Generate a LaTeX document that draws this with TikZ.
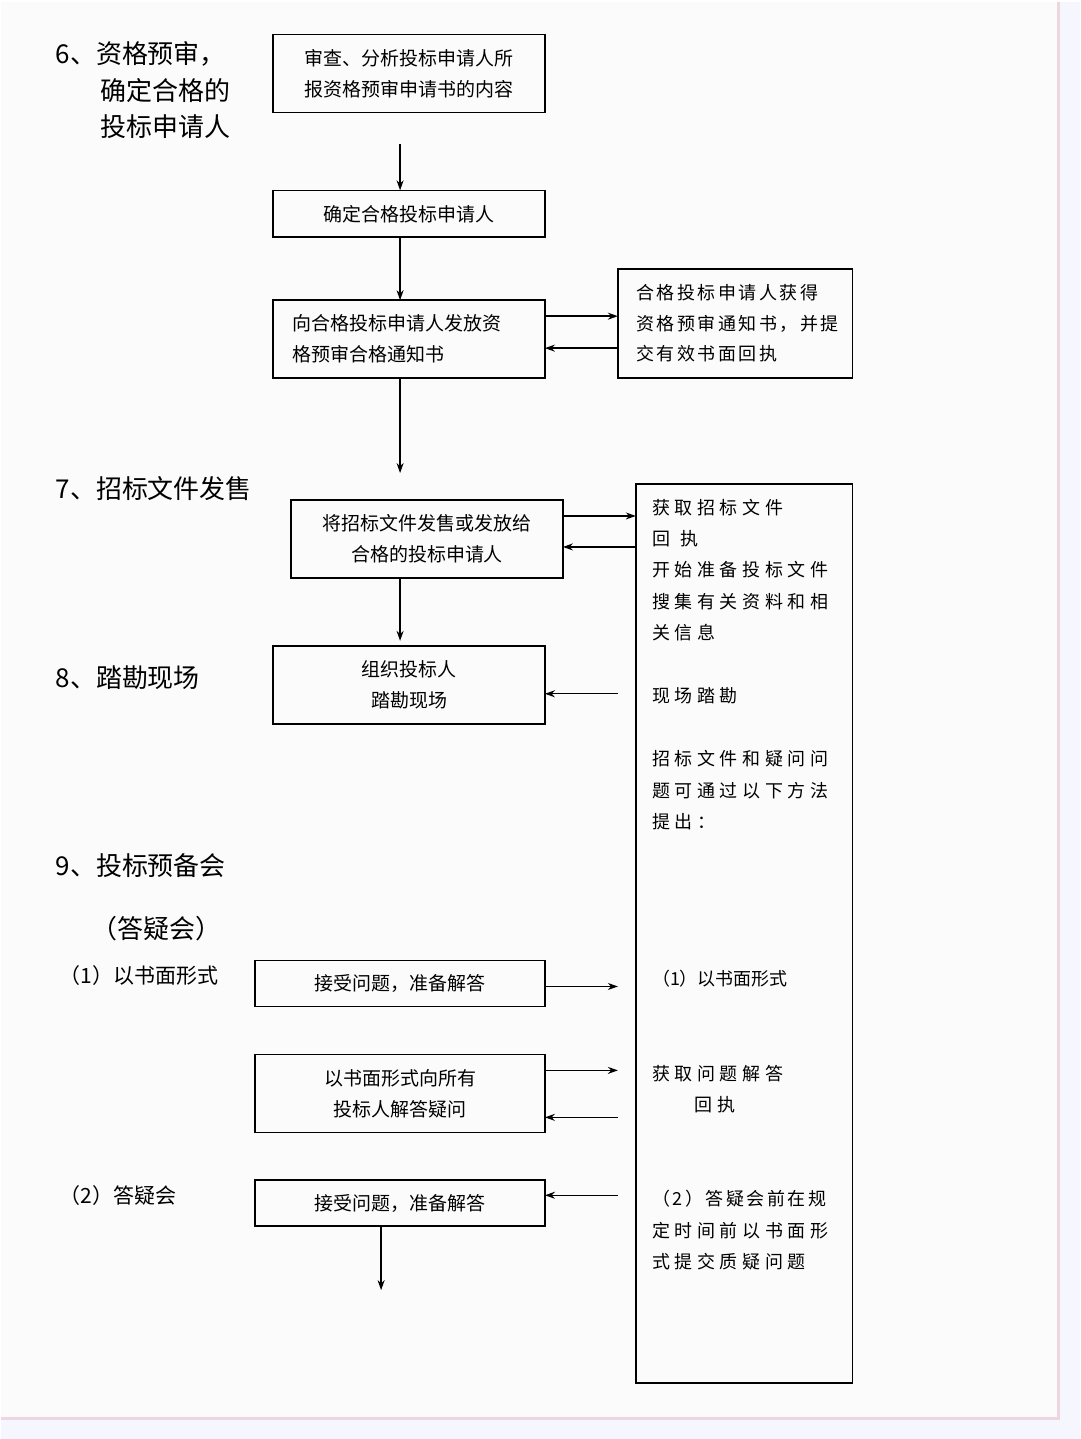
\documentclass[tikz,border=0pt]{standalone}
\usepackage{fontspec}
\setmainfont{Noto Sans CJK SC}
\newfontfamily\spaced[LetterSpace=26]{Noto Sans CJK SC}
\newfontfamily\spacedb[LetterSpace=14]{Noto Sans CJK SC}
\usetikzlibrary{arrows.meta}
\begin{document}
\begin{tikzpicture}[x=1pt,y=-1pt,
  bx/.style={draw,line width=1.6pt,inner sep=0pt},
  tx/.style={font=\fontsize{19}{31}\selectfont,align=center},
  lt/.style={font=\spaced\fontsize{18}{31.5}\selectfont,anchor=west,inner sep=0pt},
  hd/.style={font=\fontsize{26}{36}\selectfont,anchor=west,inner sep=0pt},
  ar/.style={-{Stealth[length=10pt,width=7pt]},line width=1.4pt}]
\fill[gray!20!blue!4] (0,0) rectangle (1080,1439);
\fill[white!97!gray] (0,0) rectangle (1058,1418);
\draw[gray!40!purple!20,line width=3pt] (1058,0) -- (1058,1418) -- (0,1418);
\useasboundingbox (0,0) rectangle (1080,1439);
% boxes
\draw[bx] (272,33) rectangle (544,111); \node[tx] (b1) at (408,72) {审查、分析投标申请人所\\报资格预审申请书的内容};
\draw[bx] (272,189) rectangle (544,236); \node[tx] (b2) at (408,212.5) {确定合格投标申请人};
\draw[bx] (272,299) rectangle (544,377); \node[tx,align=left,anchor=west] (b3) at (288,338) {向合格投标申请人发放资\\格预审合格通知书};
\draw[bx] (617,268) rectangle (852,377); \node[tx,font=\spacedb\fontsize{18}{31}\selectfont,align=left,anchor=west] (b4) at (632,322) {合格投标申请人获得\\资格预审通知书，并提\\交有效书面回执};
\draw[bx] (290,499) rectangle (562,577); \node[tx] (b5) at (426,538) {将招标文件发售或发放给\\合格的投标申请人};
\draw[bx] (635,483) rectangle (852,1383);
\draw[bx] (272,645) rectangle (544,723); \node[tx] (b7) at (408,684) {组织投标人\\踏勘现场};
\draw[bx] (254,960) rectangle (544,1006); \node[tx] (b8) at (399,983) {接受问题，准备解答};
\draw[bx] (254,1054) rectangle (544,1132); \node[tx] (b9) at (399,1093) {以书面形式向所有\\投标人解答疑问};
\draw[bx] (254,1180) rectangle (544,1226); \node[tx] (b10) at (399,1203) {接受问题，准备解答};
% headings
\node[hd] (h1) at (54,52) {6、资格预审，};
\node[hd] (h1b) at (99,89) {确定合格的};
\node[hd] (h1c) at (99,125) {投标申请人};
\node[hd] (h2) at (54,488) {7、招标文件发售};
\node[hd] (h3) at (54,677) {8、踏勘现场};
\node[hd] (h4) at (54,865) {9、投标预备会};
\node[hd] (h5) at (90,928) {（答疑会）};
\node[hd,font=\fontsize{21}{24}\selectfont] (h6) at (58,975) {（1）以书面形式};
\node[hd,font=\fontsize{21}{24}\selectfont] (h7) at (58,1195) {（2）答疑会};
% tall box text
\node[lt] (t1) at (651,507) {获取招标文件};
\node[lt] (t2) at (651,538) {回\hspace{0.6em}执};
\node[lt] (t3) at (651,569) {开始准备投标文件};
\node[lt] (t4) at (651,601) {搜集有关资料和相};
\node[lt] (t5) at (651,632) {关信息};
\node[lt] (t6) at (651,695) {现场踏勘};
\node[lt] (t7) at (651,758) {招标文件和疑问问};
\node[lt] (t8) at (651,790) {题可通过以下方法};
\node[lt] (t9) at (651,821) {提出：};
\node[lt,font=\fontsize{18}{31}\selectfont] (t10) at (651,978) {（1）以书面形式};
\node[lt] (t11) at (651,1073) {获取问题解答};
\node[lt] (t12) at (694,1104) {回执};
\node[lt,font=\spacedb\fontsize{18}{31}\selectfont] (t13) at (651,1198) {（2）答疑会前在规};
\node[lt] (t14) at (651,1230) {定时间前以书面形};
\node[lt] (t15) at (651,1261) {式提交质疑问题};
% arrows
\coordinate (c1) at (399,143); \coordinate (c2) at (399,189);
\draw[ar] (c1) -- (c2);
\draw[ar] (399,236) -- (399,299);
\draw[ar] (544,315) -- (617,315);
\draw[ar] (617,347) -- (544,347);
\draw[ar] (399,377) -- (399,472);
\draw[ar] (562,515) -- (635,515);
\draw[ar] (635,546) -- (562,546);
\draw[ar] (399,577) -- (399,640);
\draw[ar] (617,693) -- (544,693);
\draw[ar] (544,986) -- (617,986);
\draw[ar] (544,1070) -- (617,1070);
\draw[ar] (617,1117) -- (544,1117);
\draw[ar] (617,1195) -- (544,1195);
\draw[ar] (380,1226) -- (380,1290);
\end{tikzpicture}
\end{document}
